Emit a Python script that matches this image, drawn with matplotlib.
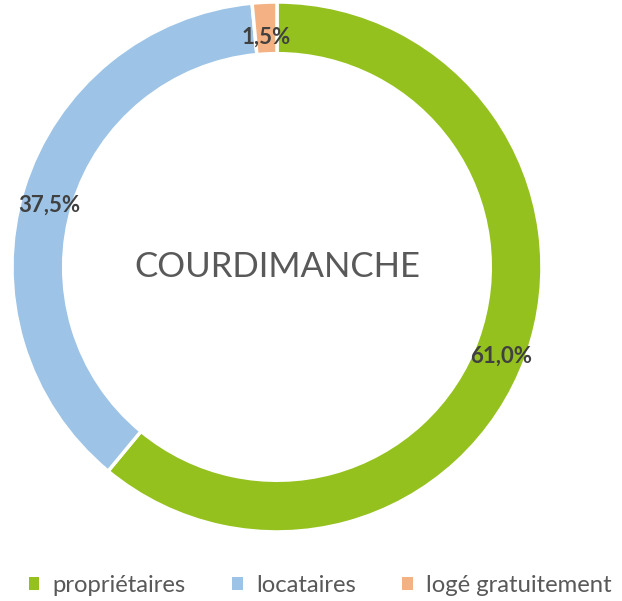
import matplotlib.pyplot as plt
from matplotlib.patches import Patch

# data
categories = ['propriétaires', 'locataires', 'logé gratuitement']
values = [61.0, 37.5, 1.5]
colors = ['#95C11F', '#9DC3E6', '#F4B183']
title = 'COURDIMANCHE'

plt.rcParams['font.family'] = ['Lato', 'DejaVu Sans']

fig = plt.figure(figsize=(6.22, 6.01), dpi=100)
ax = fig.add_axes([0.0193, 0.1148, 0.852, 0.882])

wedges, texts, autotexts = ax.pie(
    values, colors=colors, startangle=90, counterclock=False,
    radius=1, pctdistance=0.9,
    autopct=lambda p: f'{p:.1f}%'.replace('.', ','),
    wedgeprops=dict(width=0.195, edgecolor='white', linewidth=2.5),
    textprops=dict(color='#404040', fontsize=16, fontweight='bold'))

# labels sit a little lower than the ring middle in the original
for t in autotexts:
    x, y = t.get_position()
    t.set_position((x, y - 0.032))

ax.text(0, 0, title, ha='center', va='center', fontsize=25, color='#595959')
ax.set_xlim(-1, 1)
ax.set_ylim(-1, 1)
ax.set_aspect('equal')
ax.axis('off')

handles = [Patch(facecolor=c, edgecolor='none') for c in colors]
fig.legend(handles, categories, loc='center', bbox_to_anchor=(0.515, 0.026),
           ncol=3, frameon=False, fontsize=17.2, labelcolor='#595959',
           handlelength=0.45, handleheight=0.45, handletextpad=0.55, columnspacing=1.95)

fig.savefig('out.png', dpi=100)
